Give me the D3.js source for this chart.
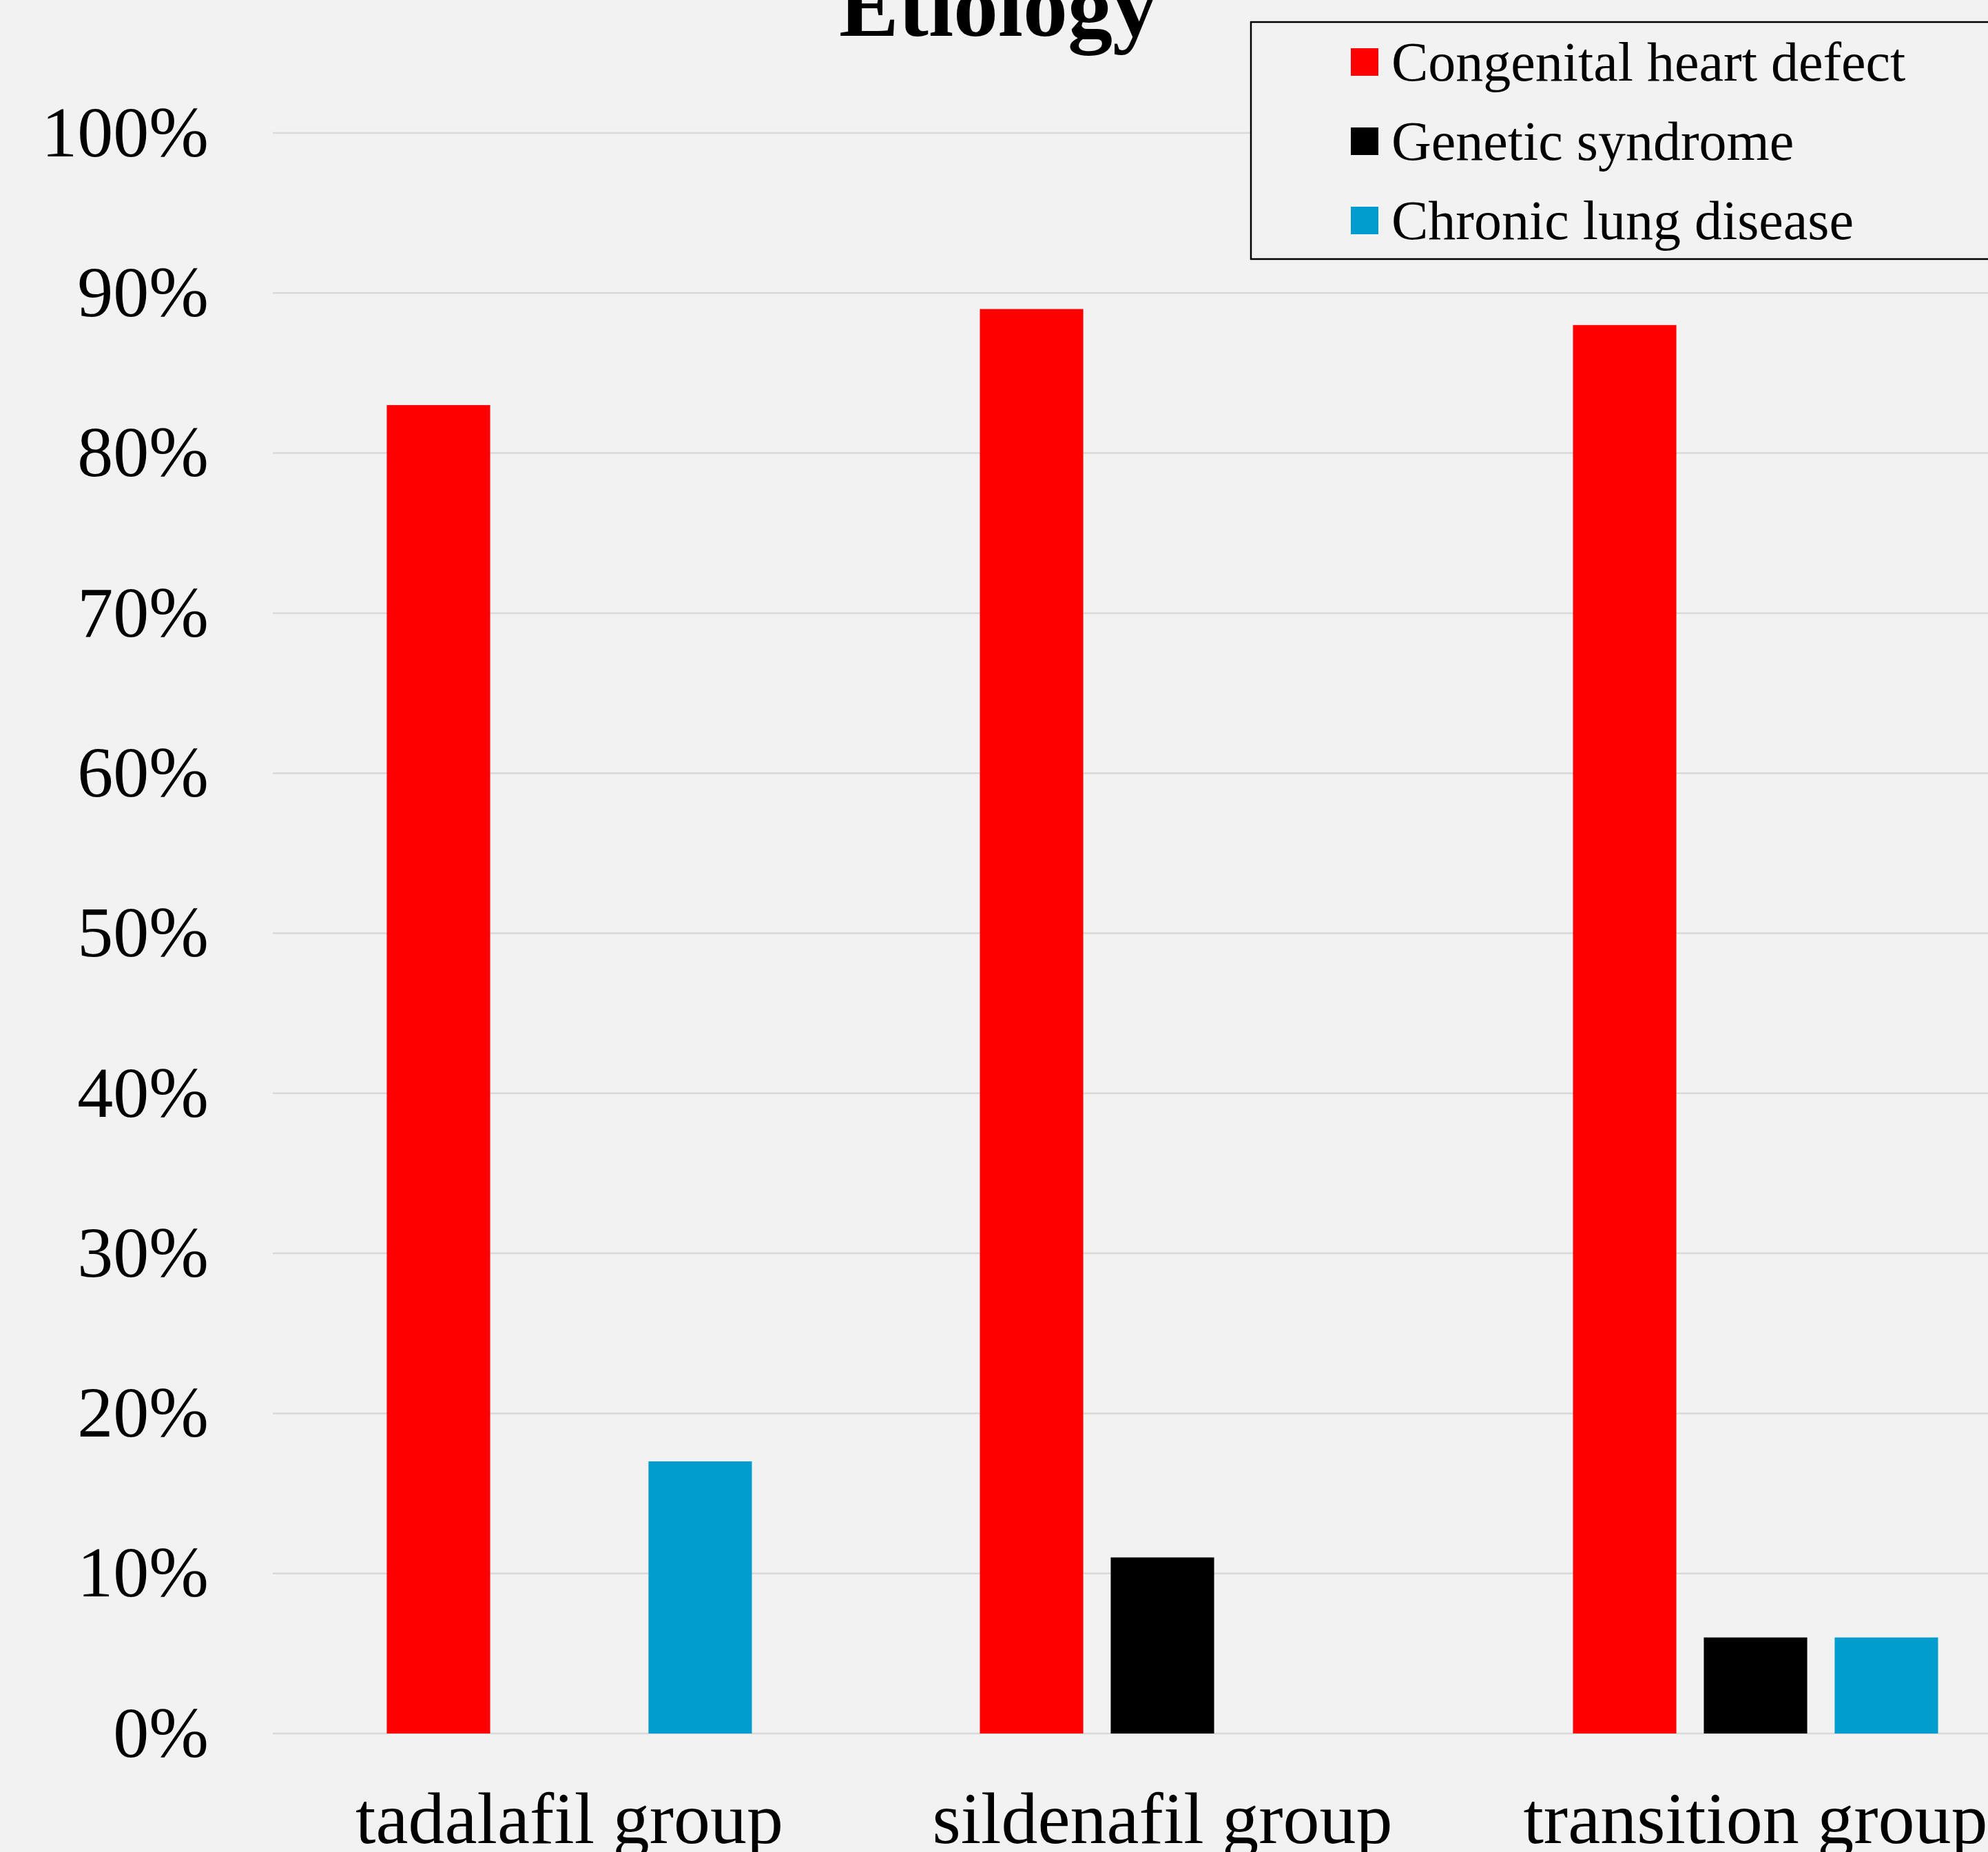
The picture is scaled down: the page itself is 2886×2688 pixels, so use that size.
<!DOCTYPE html>
<html>
<head>
<meta charset="utf-8">
<script src="https://cdn.jsdelivr.net/npm/d3@7"></script>
<style>
  html, body { margin: 0; padding: 0; background: #f2f2f2; }
  svg { display: block; font-family: "Liberation Serif", "Times New Roman", serif; }
</style>
</head>
<body>
<div id="chart"></div>
<script>
// data
var categories = ["tadalafil group", "sildenafil group", "transition group"];
var seriesNames = ["Congenital heart defect", "Genetic syndrome", "Chronic lung disease"];
var congenital = [0.83, 0.89, 0.88];
var genetic = [0, 0.11, 0.06];
var chronic = [0.17, 0, 0.06];
var seriesColors = ["#ff0000", "#000000", "#009ccd"];
var yTicks = [0, 0.1, 0.2, 0.3, 0.4, 0.5, 0.6, 0.7, 0.8, 0.9, 1.0];

var svgWidth = 2886;
var svgHeight = 2688;

// plot area runs past the right edge (the original is cropped there)
var plot = { left: 396, right: 2979, top: 193, bottom: 2516 };

var svg = d3.select("#chart")
  .append("svg")
  .attr("width", svgWidth)
  .attr("height", svgHeight);

svg.append("rect")
  .attr("width", svgWidth)
  .attr("height", svgHeight)
  .attr("fill", "#f2f2f2");

var seriesValues = [congenital, genetic, chronic];
var rows = categories.map(function(c, i) {
  return { cat: c, vals: seriesValues.map(function(s, j) { return { key: seriesNames[j], value: s[i], idx: j }; }) };
});

var x0 = d3.scaleBand()
  .domain(categories)
  .range([plot.left, plot.right])
  .paddingInner(0.3844)
  .paddingOuter(0.1922);

var x1 = d3.scaleBand()
  .domain(seriesNames)
  .range([0, x0.bandwidth()])
  .paddingInner(0.21);

var y = d3.scaleLinear()
  .domain([0, 1])
  .range([plot.bottom, plot.top]);

// gridlines
svg.append("g")
  .selectAll("line")
  .data(yTicks)
  .enter()
  .append("line")
  .attr("x1", plot.left)
  .attr("x2", plot.right)
  .attr("y1", function(d) { return y(d); })
  .attr("y2", function(d) { return y(d); })
  .attr("stroke", "#d9d9d9")
  .attr("stroke-width", 2.5);

// y axis labels
var leftAxis = d3.axisLeft(y)
  .tickValues(yTicks)
  .tickFormat(d3.format(".0%"))
  .tickSize(0)
  .tickPadding(93);

var yg = svg.append("g")
  .attr("transform", "translate(" + plot.left + ",0)")
  .call(leftAxis);
yg.select(".domain").remove();
yg.selectAll("text")
  .attr("font-family", "Liberation Serif, Times New Roman, serif")
  .attr("font-size", 104)
  .attr("fill", "#000");

// bars
var groups = svg.append("g")
  .selectAll("g")
  .data(rows)
  .enter()
  .append("g")
  .attr("transform", function(d) { return "translate(" + x0(d.cat) + ",0)"; });

groups.selectAll("rect")
  .data(function(d) { return d.vals; })
  .enter()
  .append("rect")
  .attr("x", function(d) { return x1(d.key); })
  .attr("width", x1.bandwidth())
  .attr("y", function(d) { return y(d.value); })
  .attr("height", function(d) { return plot.bottom - y(d.value); })
  .attr("fill", function(d) { return seriesColors[d.idx]; });

// x axis labels
var bottomAxis = d3.axisBottom(x0)
  .tickSize(0)
  .tickPadding(84);

var xg = svg.append("g")
  .attr("transform", "translate(0," + plot.bottom + ")")
  .call(bottomAxis);
xg.select(".domain").remove();
xg.selectAll("text")
  .attr("font-family", "Liberation Serif, Times New Roman, serif")
  .attr("font-size", 106)
  .attr("fill", "#000");

// title (cut off at the top like the original)
svg.append("text")
  .attr("x", 1449)
  .attr("y", 52)
  .attr("text-anchor", "middle")
  .attr("font-size", 130)
  .attr("font-weight", "bold")
  .attr("fill", "#000")
  .text("Etiology");

// legend
var legend = svg.append("g");
legend.append("rect")
  .attr("x", 1816)
  .attr("y", 32)
  .attr("width", 1200)
  .attr("height", 344)
  .attr("fill", "#f2f2f2")
  .attr("stroke", "#000")
  .attr("stroke-width", 2.5);

var legendItems = legend.selectAll("g.item")
  .data(seriesNames)
  .enter()
  .append("g")
  .attr("class", "item")
  .attr("transform", function(d, i) { return "translate(1961," + (90 + i * 115) + ")"; });

legendItems.append("rect")
  .attr("x", 0)
  .attr("y", -20)
  .attr("width", 40)
  .attr("height", 40)
  .attr("fill", function(d, i) { return seriesColors[i]; });

legendItems.append("text")
  .attr("x", 59)
  .attr("y", 0)
  .attr("dy", "0.34em")
  .attr("font-size", 80)
  .attr("fill", "#000")
  .text(function(d) { return d; });
</script>
</body>
</html>
